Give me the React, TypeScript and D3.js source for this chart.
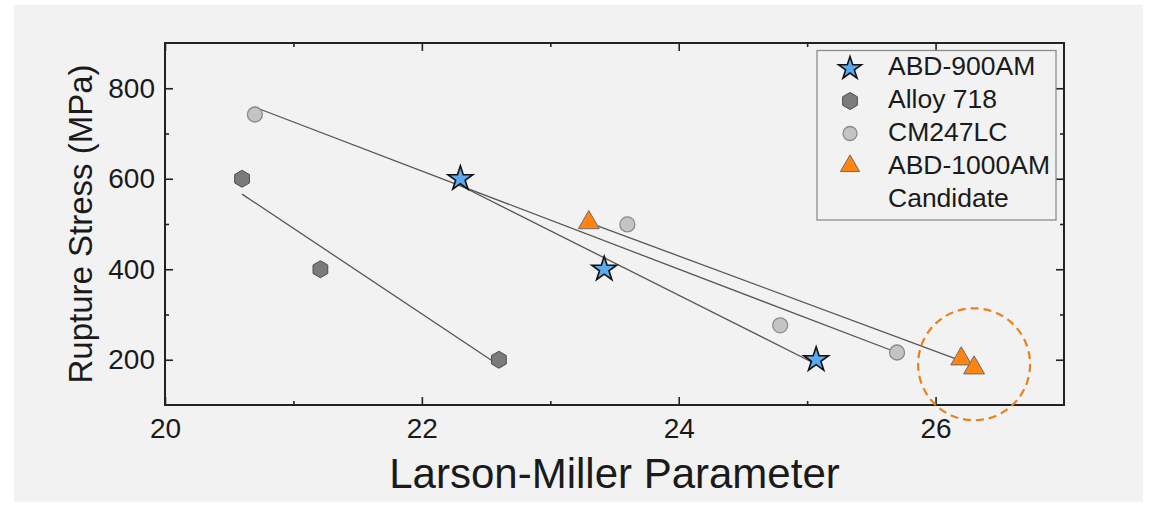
import React, { useRef, useEffect } from 'react';
import * as d3 from 'd3';

// values
const abd900_lmp = [22.3, 23.42, 25.07];
const abd900_stress = [600, 400, 200];
const alloy718_lmp = [20.6, 21.21, 22.6];
const alloy718_stress = [600, 400, 200];
const cm247lc_lmp = [20.7, 23.6, 24.79, 25.7];
const cm247lc_stress = [742, 499, 276, 216];
const abd1000_lmp = [23.3, 26.2, 26.3];
const abd1000_stress = [503, 202, 182];

// fitted trend lines (end points)
const abd900_fit_lmp = [22.3, 25.07];
const abd900_fit_stress = [585, 190];
const alloy718_fit_lmp = [20.6, 22.6];
const alloy718_fit_stress = [566, 188];
const cm247lc_fit_lmp = [20.7, 25.7];
const cm247lc_fit_stress = [758, 216];
const abd1000_fit_lmp = [23.3, 26.3];
const abd1000_fit_stress = [503, 187];

// highlighted candidate region
const highlight_lmp = 26.3;
const highlight_stress = 190;

const x_ticks = [20, 22, 24, 26];
const x_minor_ticks = [21, 23, 25];
const y_ticks = [200, 400, 600, 800];
const y_minor_ticks = [300, 500, 700];

const legend_labels = ['ABD-900AM', 'Alloy 718', 'CM247LC', 'ABD-1000AM', 'Candidate'];

const font = '"Liberation Sans", Arial, sans-serif';

function hexagon(r) {
    const pts = d3.range(6).map((i) => {
        const a = (Math.PI / 3) * i - Math.PI / 2;
        return [r * Math.cos(a), r * Math.sin(a)];
    });
    return 'M' + pts.map((p) => p.join(',')).join('L') + 'Z';
}

export default function App() {
    const svg_ref = useRef(null);

    useEffect(() => {
        const svg = d3.select(svg_ref.current);
        svg.selectAll('*').remove();

        const width = 1152;
        const height = 512;
        const plot = { left: 165, right: 1064, top: 43, bottom: 405 };

        const x = d3.scaleLinear([20, 27], [plot.left, plot.right]);
        const y = d3.scaleLinear([100, 900], [plot.bottom, plot.top]);

        svg.append('rect').attr('width', width).attr('height', height).attr('fill', '#ffffff');
        svg.append('rect')
            .attr('x', 14)
            .attr('y', 5)
            .attr('width', 1129)
            .attr('height', 497)
            .attr('fill', '#f2f2f2');

        // axes, ticks pointing inward on all sides
        const style_axis = (g) => {
            g.select('.domain').remove();
            g.selectAll('.tick line').attr('stroke', '#222').attr('stroke-width', 1.6);
            g.selectAll('.tick text')
                .attr('fill', '#1a1a1a')
                .style('font-family', font)
                .style('font-size', '28px');
        };
        const no_label = () => '';

        svg.append('g')
            .attr('transform', `translate(0,${plot.bottom})`)
            .call(d3.axisBottom(x).tickValues(x_ticks).tickFormat(d3.format('d')).tickSizeInner(-8).tickSizeOuter(0).tickPadding(13))
            .call(style_axis);
        svg.append('g')
            .attr('transform', `translate(0,${plot.bottom})`)
            .call(d3.axisBottom(x).tickValues(x_minor_ticks).tickSizeInner(-4).tickSizeOuter(0).tickFormat(no_label))
            .call(style_axis);
        svg.append('g')
            .attr('transform', `translate(0,${plot.top})`)
            .call(d3.axisTop(x).tickValues(x_ticks).tickSizeInner(-8).tickSizeOuter(0).tickFormat(no_label))
            .call(style_axis);
        svg.append('g')
            .attr('transform', `translate(0,${plot.top})`)
            .call(d3.axisTop(x).tickValues(x_minor_ticks).tickSizeInner(-4).tickSizeOuter(0).tickFormat(no_label))
            .call(style_axis);

        svg.append('g')
            .attr('transform', `translate(${plot.left},0)`)
            .call(d3.axisLeft(y).tickValues(y_ticks).tickFormat(d3.format('d')).tickSizeInner(-8).tickSizeOuter(0).tickPadding(10))
            .call(style_axis);
        svg.append('g')
            .attr('transform', `translate(${plot.left},0)`)
            .call(d3.axisLeft(y).tickValues(y_minor_ticks).tickSizeInner(-4).tickSizeOuter(0).tickFormat(no_label))
            .call(style_axis);
        svg.append('g')
            .attr('transform', `translate(${plot.right},0)`)
            .call(d3.axisRight(y).tickValues(y_ticks).tickSizeInner(-8).tickSizeOuter(0).tickFormat(no_label))
            .call(style_axis);
        svg.append('g')
            .attr('transform', `translate(${plot.right},0)`)
            .call(d3.axisRight(y).tickValues(y_minor_ticks).tickSizeInner(-4).tickSizeOuter(0).tickFormat(no_label))
            .call(style_axis);

        svg.append('rect')
            .attr('x', plot.left)
            .attr('y', plot.top)
            .attr('width', plot.right - plot.left)
            .attr('height', plot.bottom - plot.top)
            .attr('fill', 'none')
            .attr('stroke', '#222')
            .attr('stroke-width', 2);

        // axis titles
        svg.append('text')
            .attr('x', (plot.left + plot.right) / 2)
            .attr('y', 488)
            .attr('text-anchor', 'middle')
            .attr('fill', '#1a1a1a')
            .style('font-family', font)
            .style('font-size', '42px')
            .text('Larson-Miller Parameter');
        svg.append('text')
            .attr('transform', `translate(92,${(plot.top + plot.bottom) / 2}) rotate(-90)`)
            .attr('text-anchor', 'middle')
            .attr('fill', '#1a1a1a')
            .style('font-family', font)
            .style('font-size', '33px')
            .text('Rupture Stress (MPa)');

        // fit lines
        const line = d3
            .line()
            .x((d) => x(d[0]))
            .y((d) => y(d[1]));
        const fits = [
            [abd900_fit_lmp, abd900_fit_stress],
            [alloy718_fit_lmp, alloy718_fit_stress],
            [cm247lc_fit_lmp, cm247lc_fit_stress],
            [abd1000_fit_lmp, abd1000_fit_stress],
        ];
        fits.forEach(([lx, ly]) => {
            svg.append('path')
                .datum(d3.zip(lx, ly))
                .attr('fill', 'none')
                .attr('stroke', '#555')
                .attr('stroke-width', 1.3)
                .attr('d', line);
        });

        // markers
        const star = d3.symbol(d3.symbolStar, (13 * 13) / 0.8908)();
        const star_small = d3.symbol(d3.symbolStar, (12 * 12) / 0.8908)();
        const triangle = d3.symbol(d3.symbolTriangle, 190)();
        const triangle_small = d3.symbol(d3.symbolTriangle, 160)();

        const series = [
            { lmp: alloy718_lmp, stress: alloy718_stress, path: hexagon(8.5), fill: '#7b7b7b', stroke: '#4d4d4d', sw: 1 },
            { lmp: cm247lc_lmp, stress: cm247lc_stress, path: d3.symbol(d3.symbolCircle, Math.PI * 7.5 * 7.5)(), fill: '#c4c4c4', stroke: '#8a8a8a', sw: 1.3 },
            { lmp: abd1000_lmp, stress: abd1000_stress, path: triangle, fill: '#ff8412', stroke: '#6b6b6b', sw: 1 },
            { lmp: abd900_lmp, stress: abd900_stress, path: star, fill: '#5aaaf0', stroke: '#111', sw: 1.6 },
        ];
        series.forEach((s) => {
            svg.append('g')
                .selectAll('path')
                .data(d3.zip(s.lmp, s.stress))
                .join('path')
                .attr('transform', (d) => `translate(${x(d[0])},${y(d[1])})`)
                .attr('d', s.path)
                .attr('fill', s.fill)
                .attr('stroke', s.stroke)
                .attr('stroke-width', s.sw);
        });

        // dashed highlight circle
        svg.append('circle')
            .attr('cx', x(highlight_lmp))
            .attr('cy', y(highlight_stress))
            .attr('r', 56)
            .attr('fill', 'none')
            .attr('stroke', '#e8821e')
            .attr('stroke-width', 2.2)
            .attr('stroke-dasharray', '8 5');

        // legend
        const legend = svg.append('g').attr('transform', 'translate(817,50.5)');
        legend.append('rect')
            .attr('width', 239)
            .attr('height', 169.5)
            .attr('fill', '#f2f2f2')
            .attr('stroke', '#8c8c8c')
            .attr('stroke-width', 1.3);

        const legend_symbols = [
            { path: star_small, fill: '#5aaaf0', stroke: '#111', sw: 1.6 },
            { path: hexagon(8.5), fill: '#7b7b7b', stroke: '#4d4d4d', sw: 1 },
            { path: d3.symbol(d3.symbolCircle, Math.PI * 7 * 7)(), fill: '#c4c4c4', stroke: '#8a8a8a', sw: 1.3 },
            { path: triangle_small, fill: '#ff8412', stroke: '#6b6b6b', sw: 1 },
        ];
        legend_symbols.forEach((s, i) => {
            legend.append('path')
                .attr('transform', `translate(33,${18 + i * 32.5})`)
                .attr('d', s.path)
                .attr('fill', s.fill)
                .attr('stroke', s.stroke)
                .attr('stroke-width', s.sw);
        });
        legend_labels.forEach((label, i) => {
            legend.append('text')
                .attr('x', 71)
                .attr('y', 24 + i * 33)
                .attr('fill', '#1a1a1a')
                .style('font-family', font)
                .style('font-size', '26.5px')
                .text(label);
        });
    }, []);

    return (
        <svg
            ref={svg_ref}
            width={1152}
            height={512}
            style={{ position: 'absolute', left: 0, top: 0 }}
        ></svg>
    );
}
